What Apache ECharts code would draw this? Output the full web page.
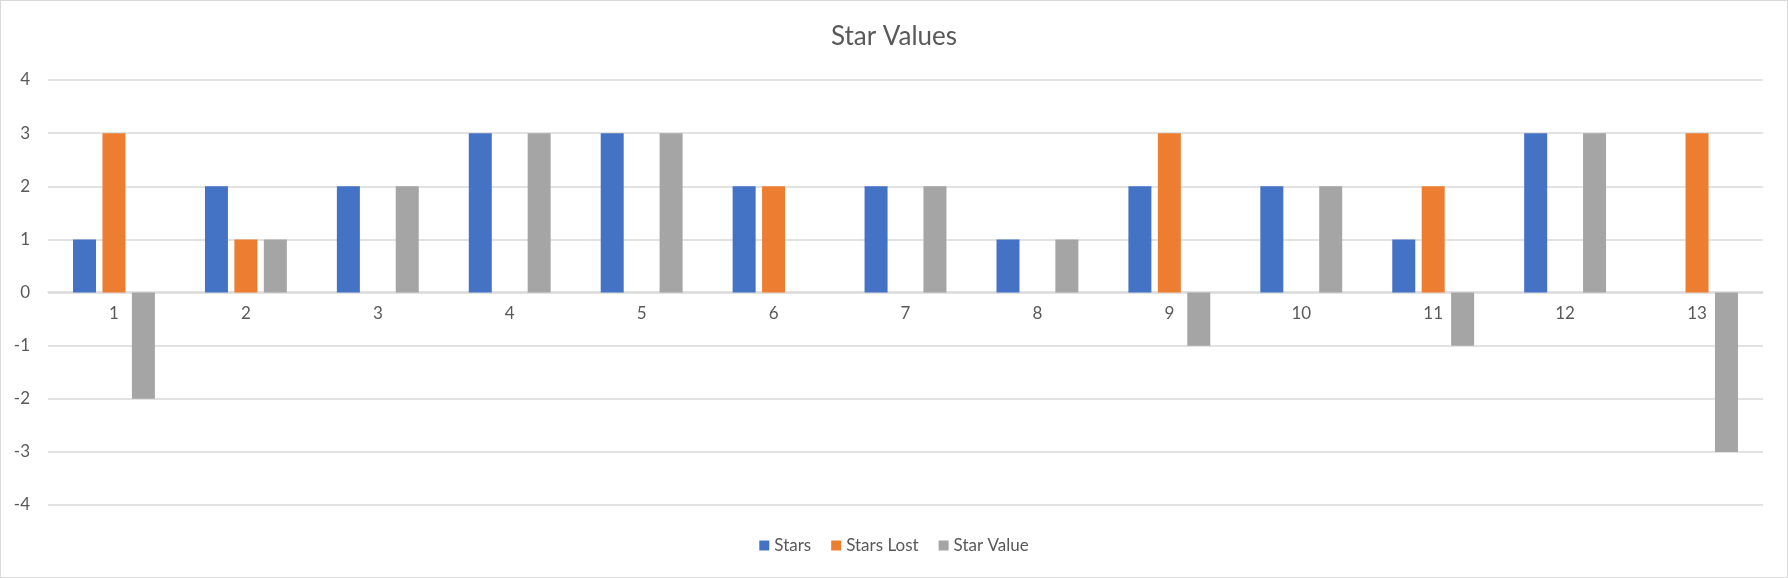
<!DOCTYPE html>
<html>
<head>
<meta charset="utf-8">
<script src="https://cdn.jsdelivr.net/npm/echarts@6/dist/echarts.min.js"></script>
<style>
    html, body { margin: 0; padding: 0; background: #fff; }
    #content { width: 1788px; height: 578px; box-sizing: border-box; border: 1px solid #d9d9d9; }
</style>
</head>
<body>
<div id="content"></div>
<script>
var categories = ['1', '2', '3', '4', '5', '6', '7', '8', '9', '10', '11', '12', '13'];
var stars = [1, 2, 2, 3, 3, 2, 2, 1, 2, 2, 1, 3, 0];
var starsLost = [3, 1, 0, 0, 0, 2, 0, 0, 3, 0, 2, 0, 3];
var starValue = [-2, 1, 2, 3, 3, 0, 2, 1, -1, 2, -1, 3, -3];

!(function(window) {
    var element = document.getElementById('content');
    var myChart = echarts.init(element);
    var font = 'Lato, "Open Sans", sans-serif';
    var gridTop = 79, gridBottom = 72, yMin = -4, yMax = 4;
    // move the category axis (line + labels) up to the zero line
    var plotH = 578 - gridTop - gridBottom;
    var zeroOffset = -plotH * (0 - yMin) / (yMax - yMin);

    var option = {
        animation: false,
        color: ['#4472C4', '#ED7D31', '#A5A5A5'],
        textStyle: { fontFamily: font },
        title: {
            text: 'Star Values',
            left: 'center',
            top: 18,
            textStyle: { fontFamily: font, fontSize: 26, fontWeight: 'normal', color: '#595959' }
        },
        legend: {
            bottom: 18,
            left: 'center',
            itemWidth: 10,
            itemHeight: 10,
            itemGap: 20,
            icon: 'rect',
            textStyle: { fontFamily: font, fontSize: 17, color: '#595959' },
            data: ['Stars', 'Stars Lost', 'Star Value']
        },
        grid: {
            left: 47,
            right: 24,
            top: gridTop,
            bottom: gridBottom
        },
        xAxis: {
            type: 'category',
            data: categories,
            offset: zeroOffset,
            axisLine: { onZero: false, lineStyle: { color: '#d9d9d9', width: 1.5 } },
            axisTick: { show: false },
            axisLabel: { fontFamily: font, fontSize: 17, color: '#595959', margin: 14 }
        },
        yAxis: {
            type: 'value',
            min: yMin,
            max: yMax,
            interval: 1,
            axisLine: { show: false },
            axisTick: { show: false },
            splitLine: { lineStyle: { color: '#d9d9d9', width: 1.5 } },
            axisLabel: { fontFamily: font, fontSize: 17, color: '#595959', margin: 18 }
        },
        series: [{
            name: 'Stars',
            type: 'bar',
            barWidth: 23,
            barGap: '28%',
            data: stars
        }, {
            name: 'Stars Lost',
            type: 'bar',
            barWidth: 23,
            barGap: '28%',
            data: starsLost
        }, {
            name: 'Star Value',
            type: 'bar',
            barWidth: 23,
            barGap: '28%',
            data: starValue
        }]
    };
    myChart.setOption(option);
})(window);
</script>
</body>
</html>
